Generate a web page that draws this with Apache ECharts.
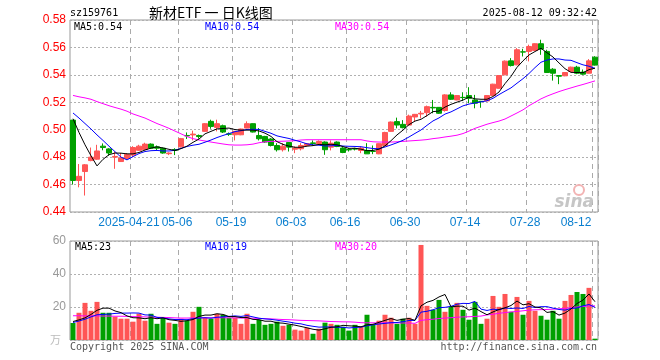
<!DOCTYPE html>
<html><head><meta charset="utf-8">
<script src="https://cdn.jsdelivr.net/npm/echarts@6/dist/echarts.min.js"></script>
<style>html,body{margin:0;padding:0;background:#fff}#c{width:660px;height:360px}</style>
</head><body><div id="c"></div>
<script>
const dates = [
'2025-04-07','2025-04-08','2025-04-09','2025-04-10','2025-04-11','2025-04-14','2025-04-15','2025-04-16','2025-04-17','2025-04-18',
'2025-04-21','2025-04-22','2025-04-23','2025-04-24','2025-04-25','2025-04-28','2025-04-29','2025-04-30',
'2025-05-06','2025-05-07','2025-05-08','2025-05-09','2025-05-12','2025-05-13','2025-05-14','2025-05-15','2025-05-16','2025-05-19',
'2025-05-20','2025-05-21','2025-05-22','2025-05-23','2025-05-26','2025-05-27','2025-05-28','2025-05-29','2025-05-30',
'2025-06-03','2025-06-04','2025-06-05','2025-06-06','2025-06-09','2025-06-10','2025-06-11','2025-06-12','2025-06-13','2025-06-16',
'2025-06-17','2025-06-18','2025-06-19','2025-06-20','2025-06-23','2025-06-24','2025-06-25','2025-06-26','2025-06-27','2025-06-30',
'2025-07-01','2025-07-02','2025-07-03','2025-07-04','2025-07-07','2025-07-08','2025-07-09','2025-07-10','2025-07-11','2025-07-14',
'2025-07-15','2025-07-16','2025-07-17','2025-07-18','2025-07-21','2025-07-22','2025-07-23','2025-07-24','2025-07-25','2025-07-28',
'2025-07-29','2025-07-30','2025-07-31','2025-08-01','2025-08-04','2025-08-05','2025-08-06','2025-08-07','2025-08-08','2025-08-11','2025-08-12'];

const opens = [0.507,0.463,0.4695,0.4775,0.4785,0.488,0.486,0.480,0.4768,0.479,
0.4815,0.485,0.4855,0.4895,0.4875,0.4865,0.4825,0.4855,0.4875,0.4958,
0.4962,0.4958,0.4988,0.5061,0.5017,0.5029,0.4970,0.4963,0.4963,0.5012,
0.5044,0.4958,0.4951,0.4932,0.4885,0.4854,0.4907,0.4858,0.4861,0.4885,
0.4904,0.4898,0.4910,0.4873,0.4910,0.4866,0.4856,0.4861,0.4849,0.4849,
0.4842,0.4824,0.4885,0.4988,0.5059,0.5039,0.5034,0.5093,0.5115,0.5124,
0.5163,0.5163,0.5140,0.5254,0.5217,0.5236,0.5249,0.5217,0.5207,0.5210,
0.5249,0.5302,0.5400,0.5502,0.5473,0.5568,0.5571,0.5578,0.5627,0.5571,
0.5441,0.5395,0.5393,0.5424,0.5456,0.5420,0.5412,0.5529];
const closes = [0.463,0.466,0.4744,0.480,0.4845,0.487,0.483,0.4805,0.4793,0.482,
0.487,0.488,0.4895,0.4865,0.4865,0.483,0.483,0.485,0.4935,0.4955,
0.4968,0.4950,0.5044,0.5024,0.5044,0.4983,0.4967,0.4988,0.5005,0.5044,
0.4983,0.4934,0.4910,0.4885,0.4854,0.4880,0.4873,0.4866,0.4885,0.4898,
0.4900,0.4915,0.4854,0.4902,0.4878,0.4834,0.4853,0.4859,0.4866,0.4824,
0.4841,0.4898,0.4980,0.5056,0.5034,0.5015,0.5100,0.5112,0.5120,0.5168,
0.5159,0.5120,0.5254,0.5222,0.5249,0.5234,0.5229,0.5193,0.5205,0.5249,
0.5332,0.5395,0.5500,0.5468,0.5583,0.5566,0.5607,0.5627,0.5588,0.5417,
0.5412,0.5390,0.5417,0.5456,0.5412,0.5405,0.5502,0.5471];
const lows = [0.460,0.458,0.452,0.477,0.478,0.485,0.481,0.4715,0.4765,0.478,
0.480,0.4845,0.485,0.486,0.485,0.4825,0.4815,0.4815,0.487,0.4932,
0.4922,0.4935,0.4985,0.5007,0.4988,0.4976,0.4955,0.4922,0.4960,0.5010,
0.4980,0.4922,0.4905,0.4878,0.4841,0.4841,0.4841,0.4829,0.4849,0.4878,
0.4885,0.4895,0.4817,0.4849,0.4873,0.4829,0.4841,0.4849,0.4829,0.4824,
0.4822,0.4822,0.4880,0.4985,0.5010,0.5010,0.5030,0.5059,0.5083,0.5095,
0.5120,0.5115,0.5132,0.5217,0.5215,0.5210,0.5193,0.5156,0.5160,0.5207,
0.5247,0.5300,0.5398,0.5461,0.5470,0.5534,0.5498,0.5575,0.5546,0.5417,
0.5358,0.5332,0.5390,0.5420,0.5405,0.5400,0.5410,0.5468];
const highs = [0.507,0.475,0.475,0.487,0.489,0.490,0.4865,0.484,0.483,0.483,
0.488,0.489,0.4905,0.490,0.4885,0.487,0.4835,0.4865,0.494,0.498,
0.4993,0.4965,0.5048,0.5073,0.5073,0.5037,0.4980,0.4990,0.5008,0.5061,
0.5046,0.5012,0.4955,0.4939,0.4902,0.4902,0.4910,0.4878,0.4902,0.4902,
0.4922,0.4922,0.4915,0.4922,0.4915,0.4873,0.4866,0.4868,0.4878,0.4902,
0.4885,0.4900,0.4985,0.5060,0.5088,0.5070,0.5110,0.5115,0.5137,0.5176,
0.5217,0.5165,0.5259,0.5273,0.5252,0.5273,0.5310,0.5254,0.5210,0.5252,
0.5335,0.5398,0.5505,0.5522,0.5595,0.5590,0.5620,0.5630,0.5656,0.5583,
0.5449,0.5395,0.5420,0.5460,0.5466,0.5439,0.5515,0.5536];

const ma5 = [0.508,0.498,0.489,0.481,0.4736,0.4784,0.4818,0.4830,0.4829,0.4824,
0.4824,0.4834,0.4852,0.4866,0.4875,0.4867,0.4857,0.4848,0.4862,0.4880,
0.4908,0.4932,0.4970,0.4988,0.5006,0.5009,0.5012,0.5001,0.4997,0.4997,
0.4997,0.4991,0.4975,0.4951,0.4913,0.4893,0.4880,0.4872,0.4872,0.4880,
0.4884,0.4893,0.4890,0.4894,0.4890,0.4877,0.4864,0.4865,0.4858,0.4847,
0.4849,0.4858,0.4882,0.4920,0.4962,0.4997,0.5037,0.5063,0.5076,0.5103,
0.5132,0.5136,0.5165,0.5185,0.5201,0.5216,0.5238,0.5225,0.5222,0.5222,
0.5242,0.5275,0.5336,0.5389,0.5455,0.5502,0.5545,0.5570,0.5594,0.5561,
0.5530,0.5487,0.5445,0.5418,0.5417,0.5416,0.5438,0.5449];
const ma10 = [0.5122,0.5085,0.5045,0.5005,0.4962,0.4922,0.4880,0.4840,0.4800,0.4780,
0.4804,0.4826,0.4841,0.4847,0.4849,0.4845,0.4845,0.4850,0.4864,0.4878,
0.4887,0.4894,0.4909,0.4925,0.4943,0.4958,0.4972,0.4986,0.4993,0.5002,
0.5003,0.5002,0.4988,0.4974,0.4955,0.4945,0.4936,0.4923,0.4911,0.4897,
0.4889,0.4887,0.4881,0.4883,0.4885,0.4881,0.4879,0.4878,0.4876,0.4869,
0.4863,0.4861,0.4874,0.4889,0.4905,0.4923,0.4947,0.4973,0.4998,0.5032,
0.5064,0.5086,0.5114,0.5130,0.5152,0.5174,0.5187,0.5195,0.5203,0.5211,
0.5229,0.5256,0.5281,0.5305,0.5339,0.5372,0.5410,0.5453,0.5492,0.5508,
0.5516,0.5516,0.5508,0.5506,0.5489,0.5473,0.5463,0.5447];
const ma30 = [0.5250,0.5240,0.5232,0.5222,0.5205,0.5190,0.5175,0.5162,0.5150,0.5135,
0.5115,0.5100,0.5085,0.5065,0.5045,0.5028,0.5010,0.4990,0.4970,0.4950,
0.4935,0.4925,0.4918,0.4910,0.4903,0.4896,0.4890,0.4888,0.4888,0.4890,
0.4895,0.4905,0.4912,0.4915,0.4915,0.4916,0.4918,0.4920,0.4925,0.4927,
0.4927,0.4927,0.4927,0.4927,0.4927,0.4927,0.4927,0.4927,0.4927,0.4918,
0.4912,0.4910,0.4910,0.4910,0.4912,0.4915,0.4918,0.4921,0.4924,0.4928,
0.4935,0.4940,0.4947,0.4953,0.4960,0.4972,0.4990,0.5010,0.5025,0.5040,
0.5052,0.5063,0.5078,0.5100,0.5122,0.5145,0.5175,0.5200,0.5225,0.5245,
0.5262,0.5278,0.5292,0.5305,0.5318,0.5330,0.5343,0.5356];

const volumes = [10.3,16.5,22.5,17.7,23.1,16.5,16.5,14.1,12.9,12.9,
11.1,15.9,11.7,15.9,9.8,13.5,10.5,9.8,12.9,11.7,
17.1,20.1,13.5,12.9,15.9,15.3,13.5,13.5,9.8,15.9,
9.8,12.3,9.2,9.8,11.1,8.6,9.2,6.3,5.7,7.4,
3.8,6.8,10.5,9.8,9.2,8.0,5.7,9.2,8.0,15.3,
9.2,11.7,15.3,13.5,9.8,12.9,13.5,9.8,57.6,20.7,
18.3,24.3,17.1,20.1,22.5,18.3,12.3,23.1,9.8,12.9,
26.7,20.1,27.9,17.1,26.1,15.3,23.7,17.7,14.7,12.3,
17.7,12.9,23.7,27.3,29.1,27.9,31.6,0.8];
const volMa5 = [11.2,12.2,13.4,15.5,18.0,19.3,19.3,17.6,16.6,14.6,
13.5,13.4,12.9,13.5,12.9,13.4,12.3,11.9,11.3,11.7,
12.4,14.3,15.1,15.1,15.9,15.5,14.2,14.2,13.6,13.6,
12.5,12.3,11.4,11.4,10.4,10.2,9.6,9.0,8.2,7.4,
6.5,6.0,6.8,7.7,8.0,8.9,8.6,8.4,8.0,9.2,
9.5,10.7,11.9,13.0,11.9,12.6,13.0,11.9,20.7,22.9,
24.0,26.1,27.6,20.1,20.5,20.5,18.1,19.3,17.2,15.3,
17.0,18.5,19.5,20.9,23.6,21.3,22.0,20.0,19.5,16.7,
17.2,15.1,16.3,18.8,22.1,24.2,27.9,23.2];
const volMa10 = [10.6,11.5,12.6,14.0,15.3,15.5,15.7,16.1,16.3,16.3,
16.4,16.3,15.2,15.1,13.7,13.4,12.8,12.4,12.4,12.3,
12.9,13.3,13.5,13.2,13.8,14.0,14.3,14.6,14.3,14.8,
14.0,13.2,12.8,12.5,12.0,11.4,10.9,10.2,9.8,8.9,
8.3,7.8,7.9,7.9,7.7,7.7,7.3,7.6,7.8,8.6,
9.2,9.7,10.1,10.5,10.6,11.1,11.8,11.9,16.9,17.4,
18.3,19.6,19.8,20.4,21.7,22.2,22.1,23.4,18.7,17.9,
18.7,18.3,19.4,19.1,19.4,19.1,20.3,19.7,20.2,20.2,
19.3,18.5,18.1,19.1,19.4,20.7,21.5,19.8];
const volMa30 = [14.7,14.7,14.6,14.6,14.6,14.5,14.5,14.4,14.4,14.3,
14.2,14.1,14.0,13.9,13.8,13.7,13.6,13.4,13.3,13.3,
13.4,13.5,13.5,13.5,13.5,13.5,13.4,13.4,13.3,13.3,
13.2,13.1,12.9,12.8,12.6,12.4,12.3,12.1,11.9,11.8,
11.7,11.6,11.4,11.2,11.1,11.0,11.0,10.8,10.5,10.4,
10.4,10.4,10.4,10.4,10.4,10.3,10.3,10.1,11.9,12.3,
12.6,13.0,13.3,13.5,13.8,14.0,14.1,14.3,14.5,15.2,
15.6,16.2,16.6,17.0,17.3,17.7,18.1,18.3,18.4,18.5,
18.7,18.9,19.2,19.6,20.0,20.3,20.6,20.7];

const labelDates = ['2025-04-21','2025-05-06','2025-05-19','2025-06-03','2025-06-16','2025-06-30','2025-07-14','2025-07-28','2025-08-12'];
const symbolCode = 'sz159761';
const titleText = '新材ETF 一 日K线图';
const stampText = '2025-08-12 09:32:42';

const UP = '#ff5555', DOWN = '#00a000';
const MONO = '"DejaVu Sans Mono", "Liberation Mono", monospace';
const labelIdx = labelDates.map(d => dates.indexOf(d));
const isLabel = (i) => labelIdx.indexOf(i) >= 0;
const last = a => a[a.length - 1];

const kData = dates.map((d, i) => [opens[i], closes[i], lows[i], highs[i]]);
const vData = volumes.map((v, i) => ({value: v, itemStyle: {color: closes[i] >= opens[i] ? UP : DOWN}}));

const chart = echarts.init(document.getElementById('c'), null, {renderer: 'canvas'});
const gridCommon = {left: 70, width: 528, show: true, borderColor: '#999', borderWidth: 1, backgroundColor: 'transparent'};
const vSplit = {show: true, interval: (i) => isLabel(i), lineStyle: {color: '#aaa', type: [5, 4], width: 1}};
const hSplit = {show: true, lineStyle: {color: '#b0b0b0', type: [2, 2], width: 1}};

function txt(x, y, text, fill, font, align) {
  return {type: 'text', x: x, y: y, silent: true, z: 100,
    style: {text: text, fill: fill, font: font, align: align || 'left', verticalAlign: 'middle'}};
}

const option = {
  animation: false,
  backgroundColor: '#fff',
  grid: [
    Object.assign({top: 20, height: 192}, gridCommon),
    Object.assign({top: 241, height: 99}, gridCommon)
  ],
  xAxis: [
    {type: 'category', gridIndex: 0, data: dates, boundaryGap: true,
     axisLine: {show: false}, axisTick: {show: false}, splitLine: vSplit,
     axisLabel: {show: true, interval: (i) => isLabel(i), margin: 5,
       formatter: (v, i) => {
         if (i === labelIdx[labelIdx.length - 1]) return '{e|' + v.slice(5) + '}';
         if (i === labelIdx[0]) return '{a|' + v + '}';
         return '{a|' + v.slice(5) + '}';
       },
       rich: {
         a: {color: '#0a7fd0', font: '10px ' + MONO, padding: [0, 8, 0, 0]},
         e: {color: '#0a7fd0', font: '10px ' + MONO, padding: [0, 38, 0, 0]}
       }}},
    {type: 'category', gridIndex: 1, data: dates, boundaryGap: true,
     axisLine: {show: false}, axisTick: {show: false}, axisLabel: {show: false}, splitLine: vSplit}
  ],
  yAxis: [
    {type: 'value', gridIndex: 0, min: 0.44, max: 0.58, interval: 0.02, scale: true,
     axisLine: {show: false}, axisTick: {show: false}, splitLine: hSplit,
     axisLabel: {color: '#ff0000', font: '10px ' + MONO, margin: 4, formatter: v => v.toFixed(2)}},
    {type: 'value', gridIndex: 1, min: 0, max: 60, interval: 20,
     axisLine: {show: false}, axisTick: {show: false}, splitLine: hSplit,
     axisLabel: {color: '#999', font: '11px ' + MONO, margin: 4, formatter: v => v === 0 ? '' : String(v)}}
  ],
  series: [
    {type: 'candlestick', xAxisIndex: 0, yAxisIndex: 0, data: kData, barWidth: 5,
     itemStyle: {color: UP, color0: DOWN, borderColor: UP, borderColor0: DOWN, borderWidth: 1}},
    {type: 'line', xAxisIndex: 0, yAxisIndex: 0, data: ma30, symbol: 'none', lineStyle: {color: '#ff00ff', width: 1}, z: 5},
    {type: 'line', xAxisIndex: 0, yAxisIndex: 0, data: ma10, symbol: 'none', lineStyle: {color: '#0000ff', width: 1}, z: 5},
    {type: 'line', xAxisIndex: 0, yAxisIndex: 0, data: ma5, symbol: 'none', lineStyle: {color: '#000000', width: 1}, z: 5},
    {type: 'bar', xAxisIndex: 1, yAxisIndex: 1, data: vData, barWidth: 5},
    {type: 'line', xAxisIndex: 1, yAxisIndex: 1, data: volMa30, symbol: 'none', lineStyle: {color: '#ff00ff', width: 1}, z: 5},
    {type: 'line', xAxisIndex: 1, yAxisIndex: 1, data: volMa10, symbol: 'none', lineStyle: {color: '#0000ff', width: 1}, z: 5},
    {type: 'line', xAxisIndex: 1, yAxisIndex: 1, data: volMa5, symbol: 'none', lineStyle: {color: '#000000', width: 1}, z: 5}
  ],
  graphic: [
    txt(70, 13, symbolCode, '#000', '10px ' + MONO),
    txt(149, 13, titleText, '#000', '14px "Noto Sans CJK SC"'),
    txt(597, 13, stampText, '#000', '10px ' + MONO, 'right'),
    txt(74, 27, 'MA5:' + last(ma5).toFixed(2), '#000', '10px ' + MONO),
    txt(205, 27, 'MA10:' + last(ma10).toFixed(2), '#0000ff', '10px ' + MONO),
    txt(335, 27, 'MA30:' + last(ma30).toFixed(2), '#ff00ff', '10px ' + MONO),
    txt(75, 247, 'MA5:' + Math.floor(last(volMa5)), '#000', '10px ' + MONO),
    txt(205, 247, 'MA10:' + Math.floor(last(volMa10)), '#0000ff', '10px ' + MONO),
    txt(335, 247, 'MA30:' + Math.floor(last(volMa30)), '#ff00ff', '10px ' + MONO),
    txt(50, 340, '万', '#bbb', '11px "Noto Sans CJK SC"'),
    txt(70, 347, 'Copyright 2025 SINA.COM', '#555', '10px ' + MONO),
    txt(597, 347, 'http://finance.sina.com.cn', '#555', '10px ' + MONO, 'right'),
    {type: 'circle', silent: true, z: 1, shape: {cx: 579, cy: 190, r: 5}, style: {fill: 'none', stroke: '#f2b3b3', lineWidth: 2}},
    txt(594, 203, 'sina', '#c6c6c6', 'italic bold 17px "DejaVu Sans"', 'right')
  ]
};
chart.setOption(option);
</script>
</body></html>
